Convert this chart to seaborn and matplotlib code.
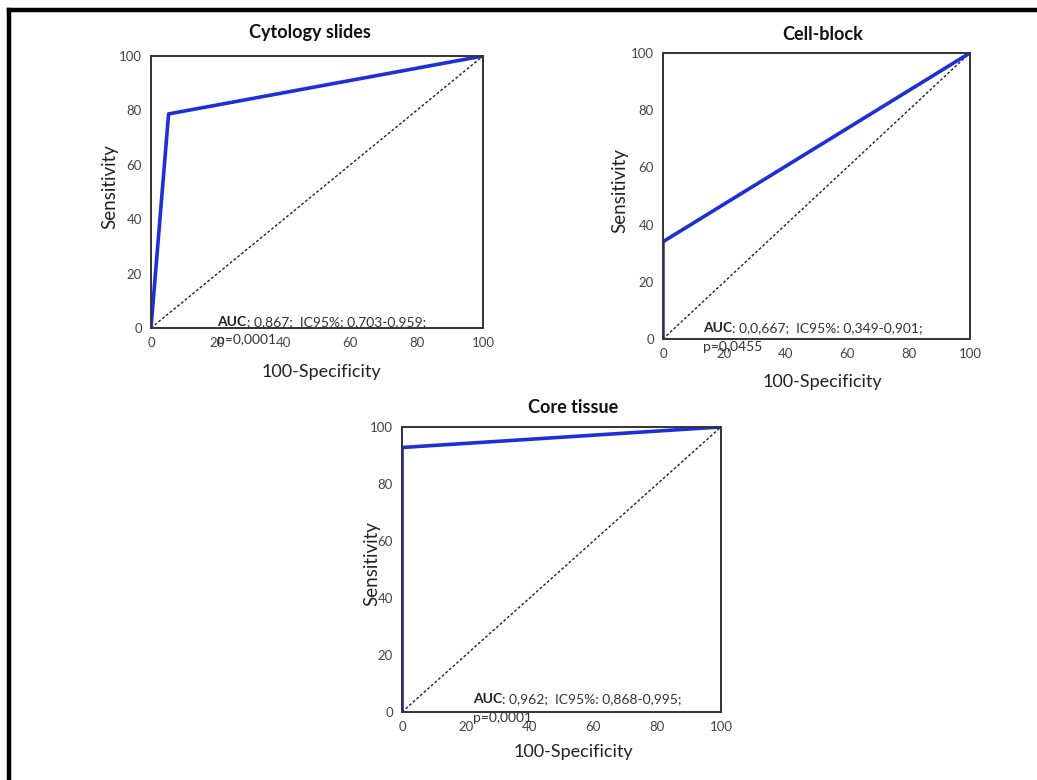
import pandas as pd
import matplotlib.pyplot as plt
import seaborn as sns
from matplotlib.lines import Line2D

# ROC points (100-specificity, sensitivity)
titles = ['Cytology slides', 'Cell-block', 'Core tissue']
fpr_cyto = [0, 5.3, 100]
tpr_cyto = [0, 78.7, 100]
fpr_cell = [0, 0, 100]
tpr_cell = [0, 34.0, 100]
fpr_core = [0, 0, 100]
tpr_core = [0, 92.8, 100]
auc_texts = [': 0,867;  IC95%: 0,703-0,959;',
             ': 0,0,667;  IC95%: 0,349-0,901;',
             ': 0,962;  IC95%: 0,868-0,995;']
p_texts = ['p=0,0001', 'p=0,0455', 'p=0,0001']
ticks = [0, 20, 40, 60, 80, 100]

sns.set_style('white')
plt.rcParams['font.family'] = ['Lato', 'DejaVu Sans']

fig = plt.figure(figsize=(10.37, 7.8), dpi=100)

# axes rectangles (fig fraction) + label/title/annotation placement
layout = [
    dict(rect=[0.1456, 0.5795, 0.3202, 0.3487], ylab=-0.123, xlab=(0.512, -0.162),
         title=(0.479, 1.085), txt=(20, 2.3), dp=-0.068),
    dict(rect=[0.6393, 0.5654, 0.2960, 0.3667], ylab=-0.14, xlab=(0.52, -0.150),
         title=(0.52, 1.063), txt=(13, 3.8), dp=-0.066),
    dict(rect=[0.3877, 0.0872, 0.3076, 0.3654], ylab=-0.094, xlab=(0.536, -0.140),
         title=(0.536, 1.067), txt=(22.3, 4.6), dp=-0.066),
]
curves = [(fpr_cyto, tpr_cyto), (fpr_cell, tpr_cell), (fpr_core, tpr_core)]

for i, (fpr, tpr) in enumerate(curves):
    lo = layout[i]
    ax = fig.add_axes(lo['rect'])
    df = pd.DataFrame({'fpr': fpr, 'tpr': tpr})
    # reference diagonal
    ax.plot([0, 100], [0, 100], color='#222222', lw=1.0, ls=(0, (2, 1.5)))
    sns.lineplot(data=df, x='fpr', y='tpr', sort=False, estimator=None,
                 color='#1f2fd8', lw=2.6, ax=ax)
    ax.set_xlim(0, 100)
    ax.set_ylim(0, 100)
    ax.set_xticks(ticks)
    ax.set_yticks(ticks)
    ax.tick_params(axis='both', direction='inout', length=6, width=1.2,
                   colors='#333333', labelsize=9.5, labelcolor='#444444')
    for sp in ax.spines.values():
        sp.set_color('#333333')
        sp.set_linewidth(1.4)
    ax.set_xlabel('100-Specificity', fontsize=13, color='#222222')
    ax.set_ylabel('Sensitivity', fontsize=13.5, color='#222222')
    ax.xaxis.set_label_coords(*lo['xlab'])
    ax.xaxis.label.set_va('center')
    ax.yaxis.set_label_coords(lo['ylab'], 0.52)
    ax.yaxis.label.set_va('center')
    ax.text(lo['title'][0], lo['title'][1], titles[i], transform=ax.transAxes,
            ha='center', va='center', fontsize=13, fontweight='bold', color='#111111')
    t1 = ax.text(lo['txt'][0], lo['txt'][1], 'AUC', fontsize=10, fontweight='bold',
                 color='#222222', va='center', ha='left')
    ax.annotate(auc_texts[i], xy=(1, 0), xycoords=t1, va='bottom', ha='left',
                fontsize=10, color='#333333')
    ax.text(lo['txt'][0] / 100, lo['txt'][1] / 100 + lo['dp'], p_texts[i],
            transform=ax.transAxes, fontsize=10, color='#333333', va='center', ha='left')

# black frame lines along top and left edge
fig.add_artist(Line2D([9 / 1037, 9 / 1037], [0, 1 - 10 / 780], color='black', lw=3.2,
                      solid_capstyle='projecting'))
fig.add_artist(Line2D([9 / 1037, 1], [1 - 10 / 780, 1 - 10 / 780], color='black', lw=3.2,
                      solid_capstyle='projecting'))

fig.savefig('out.png', dpi=100, facecolor='white')
